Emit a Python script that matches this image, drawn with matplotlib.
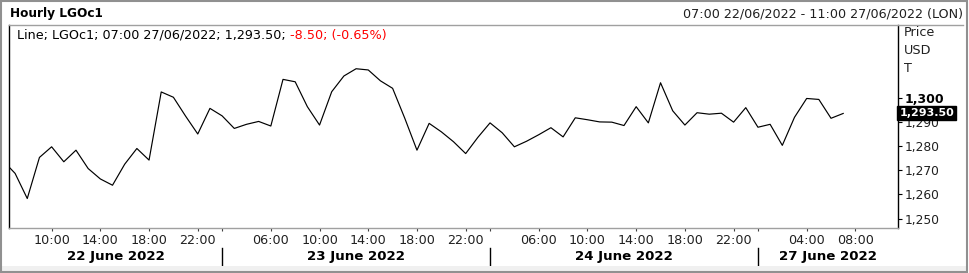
import numpy as np
import matplotlib.pyplot as plt
from matplotlib.lines import Line2D
from matplotlib.patches import Rectangle

plt.rcParams['font.family'] = ['DejaVu Sans']

# hourly closes, first bar is 06:00 22/06 (just before the window opens)
prices = [1274.0, 1268.7, 1258.3, 1275.3, 1279.7, 1273.5, 1278.3, 1270.7, 1266.4, 1263.8,
          1272.5, 1279.0, 1274.2, 1302.4, 1300.2, 1292.4, 1285.0, 1295.6, 1292.5, 1287.3,
          1289.0, 1290.2, 1288.3, 1307.6, 1306.6, 1296.3, 1288.7, 1302.5, 1309.0, 1312.0,
          1311.5, 1307.0, 1303.9, 1291.5, 1278.3, 1289.4, 1285.9, 1281.8, 1276.9, 1283.6,
          1289.6, 1285.5, 1279.7, 1282.0, 1284.7, 1287.6, 1283.8, 1291.7, 1290.9, 1290.0,
          1289.9, 1288.5, 1296.3, 1289.6, 1306.2, 1294.6, 1288.7, 1293.8, 1293.2, 1293.6,
          1289.9, 1295.9, 1287.8, 1289.0, 1280.3, 1291.9, 1299.7, 1299.3, 1291.5, 1293.5]
first_bar = -1

# bar numbers of the labelled hours (07:00 22/06 = bar 0, trading hours only)
hour_ticks = [3, 7, 11, 15, 21, 25, 29, 33, 37, 43, 47, 51, 55, 59, 65, 69]
hour_labels = ['10:00', '14:00', '18:00', '22:00',
               '06:00', '10:00', '14:00', '18:00', '22:00',
               '06:00', '10:00', '14:00', '18:00', '22:00',
               '04:00', '08:00']
day_breaks = [17, 39, 61]
day_labels = ['22 June 2022', '23 June 2022', '24 June 2022', '27 June 2022']
price_ticks = [1250, 1260, 1270, 1280, 1290, 1300]

last_price = 1293.50
change = -8.50
change_pct = -0.65

x = np.arange(len(prices)) + first_bar

W, H = 969, 273
fs = 9.2
fig = plt.figure(figsize=(W / 100, H / 100), dpi=100)
ax = fig.add_axes([9 / W, 1 - 228 / H, (898 - 9) / W, (228 - 25) / H])

ax.plot(x, prices, color='black', lw=0.85)
ax.set_xlim(-0.5, 72.5)
ax.set_ylim(1246.1, 1330.1)

ax.spines['top'].set_visible(False)
ax.spines['left'].set_color('black')
ax.spines['right'].set_color('black')
ax.spines['bottom'].set_color('#a0a0a0')
for s in ax.spines.values():
    s.set_linewidth(1.0)

# y axis on the right
ax.yaxis.tick_right()
ax.set_yticks(price_ticks)
ax.set_yticklabels([f'{v:,}' for v in price_ticks])
ax.tick_params(axis='y', length=3, width=0.8, pad=2, labelsize=8.8, labelcolor='#202020')
for lab, v in zip(ax.get_yticklabels(), price_ticks):
    if v == 1300:
        lab.set_fontweight('bold')
        lab.set_fontsize(9)
        lab.set_color('black')

# x axis: hours + day breaks
ax.set_xticks(hour_ticks)
ax.set_xticklabels(hour_labels)
ax.set_xticks(day_breaks, minor=True)
ax.tick_params(axis='x', which='both', length=2.5, width=0.8, color='#404040',
               pad=2, labelsize=fs, labelcolor='#202020')

edges = [ax.get_xlim()[0]] + day_breaks + [ax.get_xlim()[1]]
tr = ax.get_xaxis_transform()
for i, lab in enumerate(day_labels):
    mid = (edges[i] + edges[i + 1]) / 2
    ax.text(mid, -0.14, lab, transform=tr, ha='center', va='center',
            fontsize=9.6, fontweight='bold')
for b in day_breaks:
    ax.plot([b, b], [-0.099, -0.187], transform=tr, color='black', lw=1, clip_on=False)

# last price tag
ax.annotate(f'{last_price:,.2f}', xy=(1, last_price), xycoords=('axes fraction', 'data'),
            xytext=(1.0, 0), textcoords='offset points',
            ha='left', va='center', color='white', fontweight='bold', fontsize=8.0,
            bbox=dict(boxstyle='square,pad=0.18', fc='black', ec='black'),
            annotation_clip=False, zorder=5)

# header
fig.text(10 / W, 1 - 14 / H, 'Hourly LGOc1', fontweight='bold', fontsize=8.7, va='center')
fig.text(963 / W, 1 - 14 / H, '07:00 22/06/2022 - 11:00 27/06/2022 (LON)',
         ha='right', va='center', fontsize=fs, color='#202020')
fig.add_artist(Line2D([9 / W, 963 / W], [1 - 25 / H] * 2, color='#a0a0a0', lw=1))

t1 = fig.text(17 / W, 1 - 35 / H, f'Line; LGOc1; 07:00 27/06/2022; {last_price:,.2f}; ',
              va='center', fontsize=fs)
ax.annotate(f'{change:.2f}; ({change_pct:.2f}%)', xy=(1, 0.5), xycoords=t1,
            ha='left', va='center', fontsize=fs, color='#ff0000', annotation_clip=False)

for lab, yy in zip(['Price', 'USD', 'T'], [33, 51, 69]):
    fig.text(904 / W, 1 - yy / H, lab, va='center', fontsize=fs, color='#202020')

# panel frame and bottom band
fig.add_artist(Rectangle((2 / W, 2.5 / H), 964 / W, 4.5 / H, transform=fig.transFigure,
                         fc='#f0f0f0', ec='none'))
fig.add_artist(Rectangle((0.8 / W, 1 / H), 966.5 / W, 271 / H, transform=fig.transFigure,
                         fill=False, ec='#909090', lw=1.5))

fig.savefig('out.png', dpi=100)
